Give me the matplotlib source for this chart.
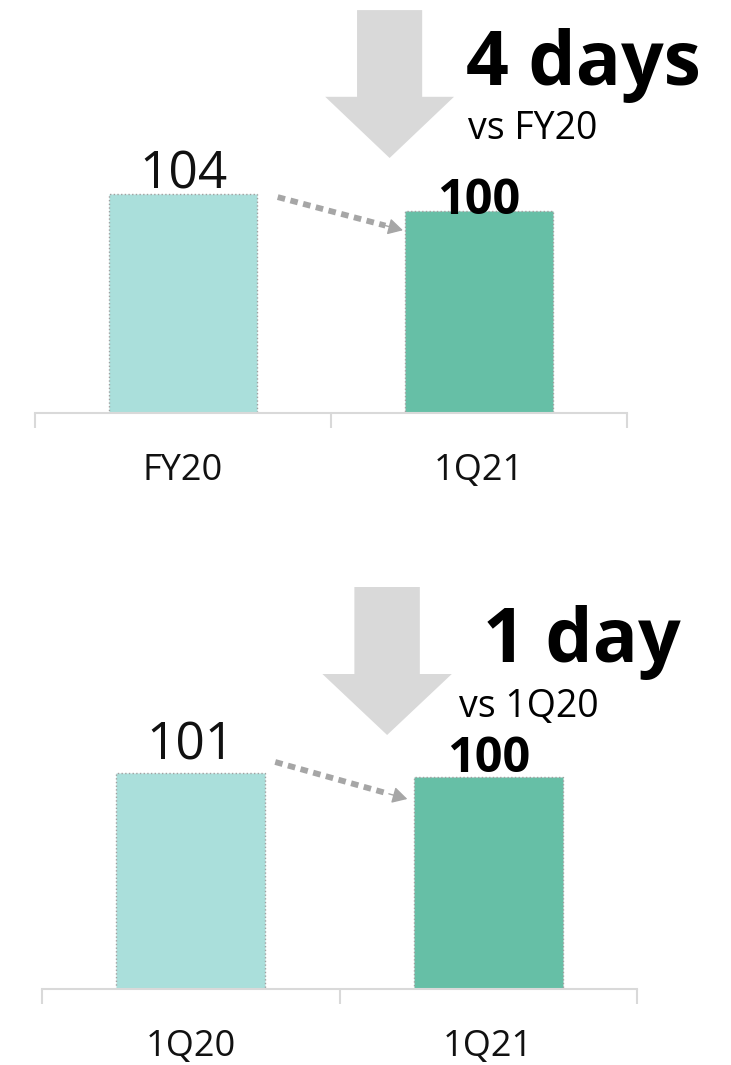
import matplotlib
matplotlib.use("Agg")
import matplotlib.pyplot as plt
from matplotlib.patches import FancyArrow

plt.rcParams['font.family'] = ['Open Sans', 'DejaVu Sans']

# data
top_labels = ['FY20', '1Q21']
top_values = [104, 100]
top_change = '4 days'
top_vs = 'vs FY20'

bot_labels = ['1Q20', '1Q21']
bot_values = [101, 100]
bot_change = '1 day'
bot_vs = 'vs 1Q20'

light = '#AADFDB'
dark = '#66BFA6'
grey = '#D9D9D9'
dot_grey = '#A6A6A6'

W, H = 731, 1065
fig = plt.figure(figsize=(W / 100, H / 100), dpi=100)


def panel(rect, ylim, labels, values, big_x, arrow_y, dot_from, dot_to, lbl_off):
    ax = fig.add_axes(rect)
    x = range(len(values))
    ax.bar(x, values, width=0.5, color=[light, dark],
           edgecolor='#A0A0A0', linestyle=':', linewidth=1.0)
    ax.set_xlim(-0.5, 1.5)
    ax.set_ylim(*ylim)
    for s in ['top', 'left', 'right']:
        ax.spines[s].set_visible(False)
    ax.spines['bottom'].set_color(grey)
    ax.spines['bottom'].set_linewidth(1.5)
    ax.set_yticks([])
    ax.set_xticks([0, 1], labels, fontsize=26, color='#111111')
    ax.tick_params(axis='x', which='major', length=0, pad=29)
    ax.set_xticks([-0.5, 0.5, 1.5], minor=True)
    ax.tick_params(axis='x', which='minor', length=11, width=1.5, color=grey)

    # value labels
    ax.text(0, values[0] + lbl_off[0], str(values[0]), ha='center',
            va='baseline', fontsize=37, color='#111111')
    ax.text(1, values[1] + lbl_off[1], str(values[1]), ha='center',
            va='baseline', fontsize=35, fontweight='bold', color='black')

    # big grey arrow
    top, head_base, tip = arrow_y
    ax.add_patch(FancyArrow(big_x, top, 0, tip - top, width=0.22,
                            head_width=0.435, head_length=head_base - tip,
                            length_includes_head=True, color=grey,
                            lw=0, clip_on=False))

    # dotted arrow between bars: dotted shaft + solid head
    x0, y0 = dot_from[0], values[0] + dot_from[1]
    x1, y1 = dot_to[0], values[1] + dot_to[1]
    t = 0.86
    xm, ym = x0 + (x1 - x0) * t, y0 + (y1 - y0) * t
    ax.plot([x0, xm], [y0, ym], color=dot_grey, lw=4.2,
            dashes=(1.3, 0.95), solid_capstyle='butt', dash_capstyle='butt')
    ax.annotate('', xy=(x1, y1), xytext=(xm, ym),
                arrowprops=dict(arrowstyle='-|>,head_length=0.9,head_width=0.5',
                                lw=1, color=dot_grey, shrinkA=0, shrinkB=0))
    return ax


panel([35 / W, 1 - 413 / H, 592 / W, 413 / H], (52.5, 52.5 + 413 / 4.25),
      top_labels, top_values, 0.698, (147.3, 126.9, 112.5),
      (0.32, -0.7), (0.743, -4.5), (1.4, -0.7))

panel([42 / W, 1 - 989 / H, 595 / W, 409 / H], (47, 47 + 409 / 4),
      bot_labels, bot_values, 0.66, (147.5, 125.75, 110.5),
      (0.284, 2.75), (0.728, -5.5), (3.5, 1.2))

fig.text(466 / W, 1 - 85 / H, top_change, fontsize=54, fontweight='bold',
         va='baseline', ha='left')
fig.text(468 / W, 1 - 139 / H, top_vs, fontsize=27, va='baseline', ha='left')
fig.text(483 / W, 1 - 662 / H, bot_change, fontsize=54, fontweight='bold',
         va='baseline', ha='left')
fig.text(459 / W, 1 - 717 / H, bot_vs, fontsize=27, va='baseline', ha='left')

fig.savefig('out.png', dpi=100)
